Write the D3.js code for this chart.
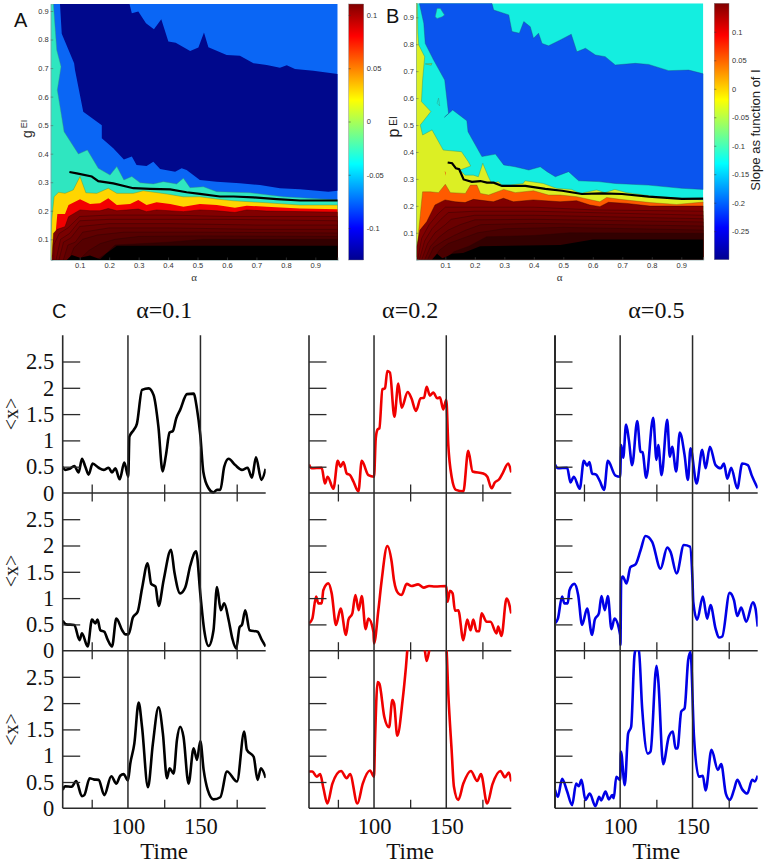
<!DOCTYPE html>
<html><head><meta charset="utf-8"><style>html,body{margin:0;padding:0;background:#fff}svg{display:block}</style>
<script src="https://cdn.jsdelivr.net/npm/d3@7/dist/d3.min.js"></script></head><body><div id="c"></div>
<script>
// ---------- Panel A contour boundaries [alpha, gEI] ----------
const aTealTop=[[.0015,.925],[.0106,.925],[.022,.763],[.0366,.705],[.024,.623],[.047,.477],[.0955,.399],[.126,.413],[.163,.349],[.203,.325],[.226,.355],[.25,.308],[.277,.32],[.305,.298],[.35,.294],[.384,.302],[.429,.294],[.452,.314],[.4745,.281],[.52,.284],[.565,.267],[.678,.263],[.791,.249],[.976,.238]];
const aNavy=[[.033,.925],[.269,.925],[.277,.892],[.299,.898],[.325,.857],[.352,.836],[.377,.871],[.401,.793],[.426,.789],[.475,.76],[.503,.772],[.522,.825],[.537,.773],[.599,.746],[.644,.743],[.69,.717],[.735,.711],[.78,.701],[.803,.71],[.831,.697],[.893,.691],[.976,.679],[.976,.27],[.944,.267],[.848,.275],[.78,.279],[.712,.29],[.644,.296],[.565,.302],[.508,.308],[.463,.343],[.446,.349],[.424,.337],[.373,.346],[.35,.372],[.327,.357],[.293,.36],[.277,.39],[.25,.38],[.214,.419],[.175,.454],[.175,.5],[.112,.547],[.084,.693],[.081,.717],[.039,.82]];
const aYellowTop=[[.0015,.074],[.005,.168],[.013,.249],[.028,.265],[.05,.261],[.078,.273],[.101,.32],[.121,.263],[.158,.261],[.197,.279],[.226,.261],[.282,.261],[.316,.27],[.395,.259],[.452,.249],[.508,.249],[.565,.241],[.622,.235],[.735,.228],[.848,.22],[.976,.22]];
const aRedTop=[[.016,.098],[.024,.189],[.05,.189],[.062,.22],[.101,.24],[.135,.224],[.169,.226],[.197,.244],[.226,.22],[.271,.224],[.299,.238],[.327,.22],[.361,.23],[.407,.224],[.452,.214],[.508,.224],[.565,.22],[.627,.211],[.667,.218],[.735,.214],[.848,.208],[.976,.205]];
const aDarkTop=[[.005,.027],[.011,.121],[.024,.135],[.05,.144],[.062,.179],[.101,.203],[.135,.2],[.169,.2],[.197,.208],[.226,.2],[.299,.206],[.327,.197],[.361,.203],[.452,.197],[.508,.203],[.565,.2],[.627,.194],[.667,.203],[.735,.199],[.976,.195]];
const aLevels=[
 [[.012,.08],[.03,.12],[.06,.14],[.1,.18],[.2,.185],[.4,.185],[.6,.18],[.976,.18]],
 [[.02,.03],[.035,.1],[.065,.12],[.1,.165],[.2,.17],[.4,.17],[.6,.17],[.976,.165]],
 [[.03,.03],[.045,.09],[.07,.105],[.1,.145],[.2,.155],[.4,.155],[.7,.15],[.976,.15]],
 [[.045,.03],[.06,.08],[.085,.09],[.11,.125],[.2,.14],[.4,.14],[.7,.135],[.976,.135]],
 [[.065,.03],[.08,.07],[.11,.1],[.16,.115],[.25,.125],[.5,.125],[.976,.122]],
 [[.1,.03],[.13,.06],[.17,.085],[.22,.1],[.3,.11],[.5,.112],[.976,.11]],
 [[.16,.03],[.19,.05],[.22,.08],[.4,.09],[.52,.1],[.976,.1]]];
const aBlack=[[.056,.0275],[.073,.045],[.101,.035],[.135,.043],[.169,.03],[.19,.05],[.226,.077],[.976,.077]];
const aBoundary=[[.065,.336],[.09,.331],[.141,.32],[.163,.304],[.214,.296],[.282,.279],[.339,.277],[.407,.275],[.463,.265],[.508,.259],[.576,.25],[.622,.25],[.69,.247],[.769,.241],[.848,.236],[.976,.236]];
// ---------- Panel B contour boundaries [alpha, pEI] ----------
const bBlue=[[.012,.952],[.027,.878],[.032,.803],[.06,.742],[.098,.667],[.111,.543],[.097,.529],[.125,.556],[.173,.516],[.177,.475],[.224,.383],[.27,.392],[.298,.352],[.337,.345],[.383,.333],[.422,.345],[.445,.327],[.473,.308],[.518,.327],[.552,.293],[.62,.29],[.676,.283],[.789,.277],[.902,.265],[.975,.261],[.975,.69],[.925,.704],[.857,.702],[.789,.725],[.744,.729],[.676,.723],[.642,.754],[.609,.76],[.575,.785],[.546,.772],[.527,.837],[.49,.816],[.45,.794],[.428,.803],[.416,.841],[.399,.822],[.388,.865],[.366,.884],[.351,.841],[.326,.847],[.315,.909],[.264,.927],[.258,.952]];
const bIslandCyan=[[.066,.902],[.072,.933],[.083,.933],[.097,.909],[.089,.902],[.072,.896]];
const bIslandCyan2=[[.072,.581],[.077,.6],[.081,.571]];
const bIslandGreen=[[.032,.727],[.055,.729],[.052,.722]];
const bSpotOrange=[[.098,.33],[.102,.323],[.1,.312]];
const bYellowTop=[[.0006,.952],[.005,.952],[.007,.841],[.01,.797],[.03,.754],[.023,.667],[.019,.587],[.051,.55],[.015,.5],[.023,.463],[.055,.482],[.093,.407],[.155,.401],[.178,.364],[.186,.348],[.15,.333],[.167,.314],[.195,.314],[.212,.308],[.227,.358],[.246,.308],[.257,.283],[.28,.29],[.291,.277],[.319,.277],[.364,.283],[.37,.293],[.432,.283],[.477,.265],[.528,.261],[.557,.246],[.613,.259],[.641,.249],[.675,.261],[.715,.249],[.816,.234],[.975,.222]];
const bOrangeTop=[[.004,0],[.01,.11],[.019,.209],[.023,.252],[.049,.252],[.077,.249],[.1,.28],[.117,.249],[.168,.246],[.185,.277],[.207,.277],[.219,.246],[.247,.24],[.298,.261],[.337,.249],[.399,.256],[.45,.24],[.489,.24],[.545,.234],[.624,.215],[.647,.231],[.692,.224],[.794,.212],[.884,.205],[.975,.214]];
const bDarkTop=[[.003,.048],[.014,.11],[.037,.141],[.065,.203],[.099,.222],[.133,.215],[.167,.212],[.195,.224],[.263,.215],[.297,.228],[.331,.215],[.398,.222],[.489,.215],[.545,.219],[.59,.203],[.624,.197],[.653,.213],[.715,.209],[.794,.199],[.975,.199]];
const bLevels=[
 [[.006,0],[.02,.08],[.045,.13],[.075,.17],[.1,.195],[.2,.195],[.4,.195],[.6,.185],[.975,.18]],
 [[.012,0],[.03,.07],[.055,.115],[.085,.15],[.11,.175],[.2,.18],[.4,.18],[.975,.165]],
 [[.02,0],[.04,.06],[.065,.1],[.1,.13],[.12,.15],[.2,.165],[.4,.165],[.975,.152]],
 [[.03,0],[.05,.05],[.08,.085],[.11,.11],[.15,.13],[.2,.148],[.4,.15],[.975,.14]],
 [[.04,0],[.06,.045],[.095,.07],[.13,.09],[.17,.11],[.22,.13],[.4,.135],[.975,.125]],
 [[.06,0],[.08,.035],[.11,.06],[.16,.08],[.21,.1],[.3,.115],[.5,.12],[.975,.11]],
 [[.1,0],[.13,.03],[.18,.05],[.24,.085],[.4,.09],[.52,.1],[.975,.098]]];
const bBlack=[[.054,0],[.072,.022],[.09,.005],[.105,.012],[.122,.022],[.16,.025],[.218,.05],[.49,.055],[.6,.075],[.975,.075]];
const bBoundary=[[.108,.361],[.123,.358],[.136,.339],[.147,.336],[.162,.298],[.19,.289],[.219,.292],[.241,.286],[.264,.286],[.292,.274],[.371,.274],[.439,.263],[.496,.256],[.563,.244],[.631,.246],[.699,.244],[.789,.234],[.902,.226],[.975,.227]];
// ---------- Ticks ----------
const heatTicks=[.1,.2,.3,.4,.5,.6,.7,.8,.9];
const cbTicksA=[.1,.05,0,-.05,-.1];
const cbTicksB=[.1,.05,0,-.05,-.1,-.15,-.2,-.25];
const levelShades=['#7a0000','#720000','#6a0000','#600000','#560000','#4a0000','#320000'];
const jetStops=[[0,'#00008f'],[.125,'#0000ff'],[.375,'#00ffff'],[.625,'#ffff00'],[.875,'#ff0000'],[1,'#800000']];
// ---------- Panel C time series [time, <x>] ----------
const yTicks=[.5,1,1.5,2,2.5];
const minorTimes=[75,125,175];
const majorTimes=[100,150];
const alpha01Row1=[[55,.5],[56.6,.44],[59.8,.46],[63,.51],[66,.39],[68.3,.65],[70.6,.5],[72.9,.35],[75.6,.56],[79.8,.48],[83.2,.44],[86.7,.48],[89,.39],[91.3,.47],[94.3,.26],[97.5,.58],[100.2,.31],[101,1.07],[104,1.2],[106.2,1.32],[109.7,1.96],[114.3,1.99],[117.7,1.86],[121,1.26],[123.9,.41],[126.2,.72],[128.7,1.15],[131,1.18],[133.3,1.42],[136,1.58],[140.7,1.88],[145.3,1.89],[147.6,1.6],[149.9,1.1],[152,.4],[155.6,.09],[159,.01],[161.4,.06],[163.7,.06],[166.4,.5],[169.4,.65],[174,.53],[178.6,.44],[182.5,.48],[185.5,.29],[188.3,.68],[192,.25],[195,.46]];
const alpha01Row2=[[55,.57],[57.3,.5],[63,.49],[66.6,.2],[68.3,.33],[72.2,.08],[75.2,.59],[77.5,.52],[79,.59],[81,.39],[83.7,.36],[86,.21],[89,.08],[92,.61],[96,.39],[98.2,.31],[100.4,.31],[103.4,.63],[106.7,.74],[109.7,1.18],[113.6,1.66],[116,1.27],[119,1.22],[121.1,.85],[124.6,1.34],[129.7,1.92],[132,1.5],[136,1.09],[139.5,1.2],[143,1.62],[147,1.89],[150,1.05],[152.6,.39],[155.6,.09],[159,.39],[161.4,1.21],[164,.77],[166.4,.9],[169.4,.59],[172,.23],[174.7,.04],[177,.45],[178.6,.49],[180.9,.77],[183.9,.39],[189.4,.36],[192.4,.2],[195,.08]];
const alpha01Row3=[[55,.35],[56.6,.42],[61.2,.41],[64.3,.52],[68.3,.23],[69.9,.25],[73.6,.57],[76.3,.55],[79.8,.54],[83.7,.25],[88.5,.61],[92,.47],[94.7,.62],[97,.65],[100,.53],[101.6,.85],[104.4,1.23],[107.4,2.01],[109.7,1.55],[113.8,.4],[117.2,1.23],[121.1,1.92],[124.1,1.42],[126.9,.57],[128.7,.76],[131.5,.66],[133.8,1.3],[136,1.55],[138.3,1.36],[141.8,.47],[145.3,1.14],[147.6,.92],[149.9,1.28],[152.2,.73],[155,.35],[159,.17],[163.7,.21],[168.3,.7],[175.2,.51],[180.2,1.46],[182,1.11],[186.7,.98],[189.4,.54],[191.7,.76],[195,.58]];
const alpha02Row1=[[55,.54],[56.8,.47],[63.8,.48],[66,.18],[67.9,.31],[71.9,.08],[74.9,.61],[76.9,.5],[78.8,.59],[81.1,.37],[83.4,.34],[85.7,.22],[89.2,.03],[91.5,.61],[96.1,.34],[100,.31],[101.2,1.04],[102.5,1.21],[103.7,1.23],[105.8,1.97],[107.6,1.99],[109.2,2.32],[111,2.29],[114.1,1.45],[116.8,2.08],[119.1,1.62],[123.3,1.92],[125.9,1.8],[129,1.56],[132.3,1.8],[134.6,1.81],[136.4,2.02],[138.7,1.85],[141,1.91],[143.8,1.8],[145.6,1.82],[147.9,1.59],[150,1.77],[151.4,.91],[153.7,.31],[156.7,.06],[161.8,.03],[165.2,.8],[168.2,.41],[175.6,.37],[178.4,.31],[181.3,.09],[183.6,.2],[186.6,.26],[188.9,.37],[192.9,.56],[195,.39]];
const alpha02Row2=[[55,.52],[57.3,.61],[59.9,1.03],[61.5,.9],[63.8,.9],[64.9,1.15],[68.4,1.28],[70.7,1.09],[73.7,.49],[76.9,.8],[80.6,.3],[82.3,.59],[85,.71],[87.1,1.06],[89.4,.77],[91.5,1.04],[94.2,.41],[96.1,.61],[99.6,.36],[100,.14],[103,.77],[105.3,1.34],[109.2,1.99],[112.2,1.69],[113.8,1.34],[116.8,1.09],[119.1,1.06],[122.6,1.27],[125.9,1.23],[130.5,1.26],[134.4,1.2],[138.1,1.23],[142.2,1.22],[150,1.23],[150.9,.93],[152.5,1.14],[154.4,1.09],[156,.76],[158.3,.77],[161.8,.2],[164.5,.59],[166.8,.39],[168.7,.59],[171,.37],[172.8,.37],[174.4,.71],[177.9,.55],[180.6,.55],[184.8,.33],[185.9,.46],[188.2,.28],[191.7,.99],[195,.71]];
const alpha02Row3=[[55,.7],[57.3,.7],[60.4,.6],[62.7,.65],[65,.38],[67.7,.09],[71.2,.47],[77.2,.71],[81.1,.57],[83.4,.65],[88.5,.09],[92.2,.47],[97.2,.72],[100,.6],[100.7,1.3],[102.5,2.4],[103.7,2.37],[107.1,1.74],[110.4,1.54],[112.7,2.06],[113.9,1.99],[116.1,1.38],[119.8,2.06],[122.1,2.69],[123.3,3.07],[127,3.4],[134.6,3.1],[136.4,2.8],[138.7,3.07],[142,3.4],[150,3.07],[151.4,2.18],[153.7,1.11],[155.3,.41],[158.3,.16],[161.8,.47],[167,.71],[171.4,.52],[174,.65],[178.3,.09],[182,.46],[187.5,.71],[190.6,.59],[193.3,.68],[195,.51]];
const alpha05Row1=[[55,.54],[57,.47],[63.4,.48],[65.7,.2],[68,.31],[72.1,.08],[74.9,.61],[77.2,.52],[78.8,.59],[80.6,.37],[83.4,.35],[85.9,.23],[88.9,.06],[91.5,.61],[96.8,.33],[100,.31],[100.7,.91],[102.1,.67],[104.1,1.3],[106,1.01],[108.3,.53],[111.8,1.37],[114.1,.78],[115.4,.78],[118,.29],[122.8,1.43],[125.1,.63],[126.3,.91],[128.6,.34],[132.5,1.39],[134.3,.69],[135.9,.88],[138.7,.41],[141.2,1.15],[144.5,.72],[146.8,.25],[148.6,.85],[152.8,.18],[156.7,.82],[159,.47],[162,.88],[165.9,.53],[169.4,.47],[171.7,.56],[174,.27],[176.7,.48],[180.9,.09],[184.3,.56],[188.2,.53],[190.8,.34],[195,.09]];
const alpha05Row2=[[55,.52],[57,.61],[59.9,1.03],[61.5,.9],[63.8,.9],[65,1.15],[68.4,1.27],[71,1.06],[73.7,.49],[77.2,.8],[80.6,.3],[82.5,.59],[85.3,.71],[87.1,1.04],[89.4,.77],[91.5,1.04],[94,.41],[96.1,.61],[100,.3],[100.2,.11],[100.7,1.34],[101.8,1.41],[104.4,1.28],[107.1,1.59],[110.6,1.64],[114.1,1.91],[117.5,2.18],[122.1,2.07],[127.9,1.56],[132.5,1.96],[134.8,1.88],[139,1.47],[144,2.01],[148.2,1.98],[150,1.31],[150.5,.93],[153.2,.59],[157.1,1.03],[160.1,.61],[162.4,.87],[165.9,.42],[168.2,.25],[170.5,.27],[175.6,1.1],[178.6,.96],[180.9,.66],[183.6,.82],[187.1,.55],[191.7,.92],[193.5,.8],[195,.46]];
const alpha05Row3=[[55,.35],[57,.22],[59.9,.56],[63.4,.32],[66.8,.06],[69.6,.47],[71.4,.42],[73.3,.54],[76,.16],[79,.28],[82.9,.04],[85.5,.22],[86.9,.15],[89.9,.32],[92.2,.17],[94.5,.25],[95.6,.19],[97.3,.6],[100,.54],[100.5,1.08],[103.2,.44],[105.5,1.42],[107.6,1.55],[109.9,2.91],[111,3.04],[112.9,3],[115.2,1.9],[119.1,1.04],[121,1.08],[125.1,2.71],[126.3,2.44],[129.7,.84],[133.6,1.36],[136.4,1.46],[138.2,1.14],[139.6,1.14],[142.2,1.84],[144.5,1.9],[147,2.82],[148.6,2.97],[151,1.36],[154.4,.6],[157.1,.62],[159,.34],[163.1,1.11],[167.5,.73],[169.8,.84],[173,.28],[175.8,.16],[178.6,.35],[180.9,.54],[184.3,.36],[187.8,.28],[191.2,.54],[192.9,.51],[195,.62]];

const svg=d3.select('#c').append('svg').attr('width',764).attr('height',863).attr('viewBox','0 0 764 863');
const defs=svg.append('defs');
const sans='"Liberation Sans",Arial,sans-serif', serif='"Liberation Serif","Times New Roman",serif';

function heatPanel(cfg){
  const x=d3.scaleLinear().domain(cfg.xd).range([cfg.l,cfg.r]);
  const y=d3.scaleLinear().domain(cfg.yd).range([cfg.b,cfg.t]);
  const line=d3.line().x(d=>x(d[0])).y(d=>y(d[1]));
  const cid='clip'+cfg.id;
  defs.append('clipPath').attr('id',cid).append('rect').attr('x',cfg.l).attr('y',cfg.t).attr('width',cfg.r-cfg.l).attr('height',cfg.b-cfg.t);
  const g=svg.append('g').attr('clip-path',`url(#${cid})`);
  const toFloor=p=>[...p,[p[p.length-1][0],cfg.yd[0]],[p[0][0],cfg.yd[0]]];
  g.append('rect').attr('x',cfg.l).attr('y',cfg.t).attr('width',cfg.r-cfg.l).attr('height',cfg.b-cfg.t).attr('fill',cfg.bg);
  cfg.layers.forEach(ly=>{
    g.append('path').attr('d',line(ly.floor?toFloor(ly.pts):ly.pts)+'Z').attr('fill',ly.fill)
     .attr('stroke',ly.stroke||'none').attr('stroke-width',ly.sw||.4);
  });
  g.append('path').attr('d',line(cfg.boundary)).attr('fill','none').attr('stroke','#000').attr('stroke-width',2.2);
  // axes
  const axB=svg.append('g').attr('transform',`translate(0,${cfg.b})`).call(d3.axisBottom(x).tickValues(heatTicks).tickSize(-2.5).tickPadding(3).tickFormat(d3.format('.1f')));
  const axL=svg.append('g').attr('transform',`translate(${cfg.l},0)`).call(d3.axisLeft(y).tickValues(heatTicks).tickSize(-2.5).tickPadding(2).tickFormat(d3.format('.1f')));
  [axB,axL].forEach(a=>{a.selectAll('text').attr('font-family',sans).attr('font-size',7.5).attr('fill','#333');
    a.selectAll('line').attr('stroke','#555').attr('stroke-width',.5);a.select('.domain').attr('stroke','#8aa').attr('stroke-width',.6);});
  svg.append('text').attr('x',(cfg.l+cfg.r)/2+0).attr('y',281).attr('text-anchor','middle').attr('font-family',serif).attr('font-size',11).attr('fill','#333').text('α');
  // colorbar
  const gid='jet'+cfg.id;
  const gr=defs.append('linearGradient').attr('id',gid).attr('x1',0).attr('x2',0).attr('y1',1).attr('y2',0);
  jetStops.forEach(s=>gr.append('stop').attr('offset',s[0]).attr('stop-color',s[1]));
  svg.append('rect').attr('x',cfg.cl).attr('y',cfg.t).attr('width',cfg.cw).attr('height',cfg.b-cfg.t).attr('fill',`url(#${gid})`).attr('stroke','#777').attr('stroke-width',.4);
  const cy=d3.scaleLinear().domain(cfg.cd).range([cfg.b,cfg.t]);
  const cax=svg.append('g').attr('transform',`translate(${cfg.cl+cfg.cw},0)`).call(d3.axisRight(cy).tickValues(cfg.cticks).tickSize(2).tickPadding(1).tickFormat(d=>String(d)));
  cax.select('.domain').remove();
  cax.selectAll('text').attr('font-family',sans).attr('font-size',7.5).attr('fill','#333');
  cax.selectAll('line').attr('stroke','#333').attr('stroke-width',.5).attr('x1',-cfg.cw).attr('x2',-cfg.cw+2);
  return {x,y};
}
const darkStroke='#2a0000';
const levelLayers=(lv)=>lv.map((pts,i)=>({pts,floor:true,fill:levelShades[i],stroke:darkStroke,sw:.4}));
heatPanel({id:'A',l:50.7,r:337.7,t:4,b:260,xd:[.0015,.976],yd:[.0275,.9245],bg:'#0a66f5',
  cl:348.7,cw:15,cd:[-.13,.1103],cticks:cbTicksA,boundary:aBoundary,layers:[
   {pts:aTealTop,floor:true,fill:'#2fe6c0',stroke:'#3a9a70'},
   {pts:aNavy,fill:'#00088c'},
   {pts:aYellowTop,floor:true,fill:'#ffd500',stroke:'#5a8a30'},
   {pts:aRedTop,floor:true,fill:'#f20000'},
   {pts:aDarkTop,floor:true,fill:'#820000',stroke:darkStroke,sw:.4},
   ...levelLayers(aLevels),
   {pts:aBlack,floor:true,fill:'#000'}]});
heatPanel({id:'B',l:416,r:703.3,t:3.3,b:259.7,xd:[.0006,.9746],yd:[0,.952],bg:'#14eee0',
  cl:714.3,cw:14.7,cd:[-.3,.15],cticks:cbTicksB,boundary:bBoundary,layers:[
   {pts:bYellowTop,floor:true,fill:'#dcef24',stroke:'#3c8a50'},
   {pts:bBlue,fill:'#0a55ee',stroke:'#204a80',sw:.4},
   {pts:bIslandCyan,fill:'#14eee0',stroke:'#3c8a70',sw:.4},
   {pts:bIslandCyan2,fill:'#14eee0',stroke:'#3c8a70',sw:.4},
   {pts:bIslandGreen,fill:'#8fd060',stroke:'#3c8a50',sw:.4},
   {pts:bSpotOrange,fill:'#e86a10'},
   {pts:bOrangeTop,floor:true,fill:'#ff5a00',stroke:'#7a5a10',sw:.4},
   {pts:bDarkTop,floor:true,fill:'#820000',stroke:darkStroke,sw:.4},
   ...levelLayers(bLevels),
   {pts:bBlack,floor:true,fill:'#000'}]});

// heat panel annotations
function txt(x,y,s,size,fam,anchor,rot,fill){
  const t=svg.append('text').attr('text-anchor',anchor||'start').attr('font-family',fam).attr('font-size',size).attr('fill',fill||'#111').text(s);
  if(rot!=null) t.attr('transform',`translate(${x},${y}) rotate(${rot})`); else t.attr('x',x).attr('y',y);
  return t;
}
txt(14,27,'A',20,sans);
txt(386,23,'B',20,sans);
txt(52,318,'C',20,sans);
txt(32,134,'g',14,sans,'middle',-90,'#333');
txt(27,124,'EI',9,sans,'middle',-90,'#333');
txt(399,133,'p',16,sans,'middle',-90,'#222');
txt(397,121,'EI',10,sans,'middle',-90,'#222');
txt(760,130,'Slope as function of I',13,sans,'middle',-90,'#222');

// ---------- Panel C ----------
const timeDomain=[55,195];
const valDomain=[0,3];
const columns=[
 {l:62.7,r:265.7,color:'#000',axisW:1.6,rows:[alpha01Row1,alpha01Row2,alpha01Row3],title:'α=0.1',labels:true},
 {l:309,r:511.3,color:'#f00000',axisW:1.6,rows:[alpha02Row1,alpha02Row2,alpha02Row3],title:'α=0.2'},
 {l:555,r:757.7,color:'#0000e6',axisW:2,rows:[alpha05Row1,alpha05Row2,alpha05Row3],title:'α=0.5'}];
const rowBase=[493,650.7,808.3];
const rowH=157.8;
const labelMid=[414,571,729.5];
const axisColor='#2a2a2a';
columns.forEach((col,ci)=>{
  const x=d3.scaleLinear().domain(timeDomain).range([col.l,col.r]);
  const top=rowBase[0]-rowH, bot=rowBase[2];
  rowBase.forEach((b,ri)=>{
    const y=d3.scaleLinear().domain(valDomain).range([b,b-rowH]);
    const cid=`cl${ci}${ri}`;
    defs.append('clipPath').attr('id',cid).append('rect').attr('x',col.l).attr('y',b-rowH).attr('width',col.r-col.l).attr('height',rowH+1);
    svg.append('path').attr('clip-path',`url(#${cid})`).attr('d',d3.line().x(d=>x(d[0])).y(d=>y(d[1])).curve(d3.curveMonotoneX)(col.rows[ri]))
      .attr('fill','none').attr('stroke',col.color).attr('stroke-width',2.6).attr('stroke-linejoin','round');
    const yr=svg.append('g').attr('transform',`translate(${col.l},0)`).call(d3.axisRight(y).tickValues(yTicks).tickSize(17.5).tickFormat(''));
    yr.select('.domain').remove();
    yr.selectAll('line').attr('stroke',axisColor).attr('stroke-width',1.3);
    const xz=svg.append('g').attr('transform',`translate(0,${b})`).call(d3.axisTop(x).tickValues(minorTimes).tickSize(8.5).tickFormat(''));
    xz.select('.domain').attr('stroke',axisColor).attr('stroke-width',1.4).attr('d',`M${col.l},0H${col.r}`);
    xz.selectAll('line').attr('stroke',axisColor).attr('stroke-width',1.3);
    if(ri<2){
      const xd=svg.append('g').attr('transform',`translate(0,${b})`).call(d3.axisBottom(x).tickValues(minorTimes).tickSize(8.5).tickFormat(''));
      xd.select('.domain').remove();
      xd.selectAll('line').attr('stroke',axisColor).attr('stroke-width',1.3);
    }
    if(col.labels){
      const yl=svg.append('g').attr('transform',`translate(${col.l},0)`).call(d3.axisLeft(y).tickValues([0,...yTicks]).tickSize(0).tickPadding(8.5).tickFormat(d=>String(d)));
      yl.select('.domain').remove();
      yl.selectAll('text').attr('font-family',serif).attr('font-size',22.5).attr('fill','#111');
      txt(18,labelMid[ri],'<x>',20,serif,'middle',-90,'#222');
    }
  });
  // y axis and stimulus lines
  svg.append('line').attr('x1',col.l).attr('x2',col.l).attr('y1',top).attr('y2',bot).attr('stroke',axisColor).attr('stroke-width',col.axisW);
  majorTimes.forEach(t=>svg.append('line').attr('x1',x(t)).attr('x2',x(t)).attr('y1',top).attr('y2',bot).attr('stroke',axisColor).attr('stroke-width',1.5));
  const xb=svg.append('g').attr('transform',`translate(0,${bot})`).call(d3.axisBottom(x).tickValues(majorTimes).tickSize(0).tickPadding(10).tickFormat(d=>String(d)));
  xb.select('.domain').remove();
  xb.selectAll('text').attr('font-family',serif).attr('font-size',22.5).attr('fill','#111');
  txt(x(125),859,'Time',23,serif,'middle');
  txt(x(125),318,col.title,24,serif,'middle');
});
</script></body></html>
